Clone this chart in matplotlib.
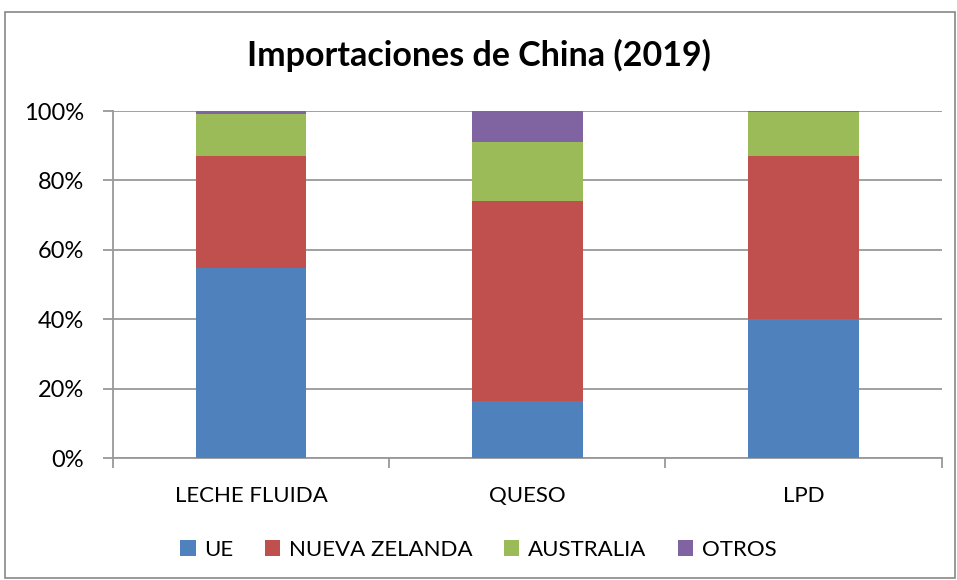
import numpy as np
import matplotlib.pyplot as plt

plt.rcParams['font.family'] = ['Lato', 'DejaVu Sans']

categorias = ['LECHE FLUIDA', 'QUESO', 'LPD']
series = ['UE', 'NUEVA ZELANDA', 'AUSTRALIA', 'OTROS']
ue = [54.8, 16.3, 40.0]
nueva_zelanda = [32.1, 57.8, 47.1]
australia = [12.1, 16.9, 12.6]
otros = [1.0, 9.0, 0.3]
colores = ['#4f81bd', '#c0504d', '#9bbb59', '#8064a2']

fig = plt.figure(figsize=(9.57, 5.8), dpi=100)
ax = fig.add_axes([0.118, 0.2103, 0.866, 0.5983])

# borde exterior del grafico
fig.patches.append(plt.Rectangle((5 / 957, 2 / 580), 950 / 957, 566 / 580,
                                 transform=fig.transFigure, fill=False,
                                 edgecolor='#888888', linewidth=1.2))

x = np.arange(len(categorias))
base = np.zeros(len(categorias))
for nombre, vals, c in zip(series, [ue, nueva_zelanda, australia, otros], colores):
    ax.bar(x, vals, 0.40, bottom=base, color=c, label=nombre, zorder=3)
    base += np.array(vals)

ax.set_xlim(-0.5, 2.5)
ax.set_ylim(0, 100)
ax.set_yticks(np.arange(0, 101, 20))
ax.set_yticklabels([f'{v}%' for v in range(0, 101, 20)], fontsize=17)
ax.yaxis.grid(True, color='#999999', linewidth=1.3, zorder=0)
ax.tick_params(axis='y', length=7, color='#999999', width=1.3, pad=14)

ax.set_xticks([-0.5, 0.5, 1.5, 2.5])
ax.set_xticklabels([])
ax.set_xticks(x, minor=True)
ax.set_xticklabels(categorias, minor=True, fontsize=16)
ax.tick_params(axis='x', which='major', length=7, color='#999999', width=1.3)
ax.tick_params(axis='x', which='minor', length=0, pad=20)

for s in ['top', 'right']:
    ax.spines[s].set_visible(False)
for s in ['left', 'bottom']:
    ax.spines[s].set_color('#999999')
    ax.spines[s].set_linewidth(1.3)

fig.text(0.5, 0.905, 'Importaciones de China (2019)', ha='center', va='center',
         fontsize=24.5, fontweight='bold')

fig.legend(loc='center', bbox_to_anchor=(0.5, 0.052), ncol=4, frameon=False,
           fontsize=16, handlelength=0.7, handleheight=0.7, columnspacing=1.4,
           handletextpad=0.4)

fig.savefig('out.png', dpi=100)
